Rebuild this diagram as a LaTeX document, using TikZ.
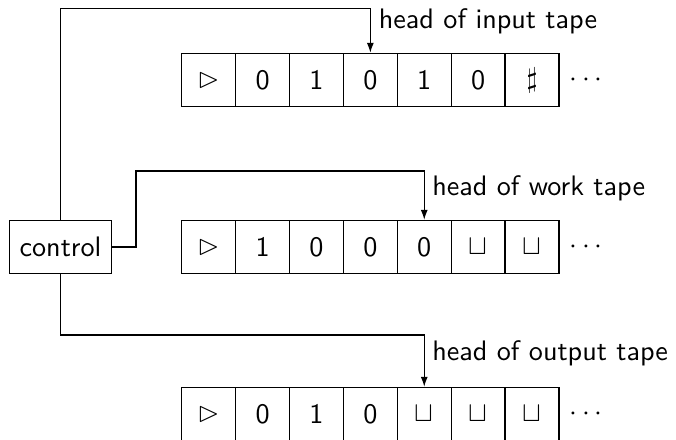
\documentclass[tikz,border=0pt]{standalone}
\usepackage{amssymb}
\usetikzlibrary{arrows.meta}
\begin{document}
\begin{tikzpicture}[x=0.355pt,y=-0.355pt,
  every node/.style={font=\sffamily},
  cell/.style={draw,minimum width=19.1pt,minimum height=19pt,inner sep=0pt},
  ctrlbox/.style={draw,minimum height=18.7pt,inner xsep=3.6pt,inner ysep=0pt},
  headlabel/.style={anchor=base west,inner sep=0pt},
  more/.style={anchor=base,inner sep=0pt},
  arr/.style={-{Latex[length=3.5pt,width=2.5pt]}}]
\useasboundingbox (0,0) rectangle (676,440);

% the three tapes
\foreach \sym [count=\i from 0] in {$\vartriangleright$,0,1,0,1,0,$\sharp$}
  \node[cell] (in\i) at (208.65+53.9*\i,80) {\sym};
\foreach \sym [count=\i from 0] in {$\vartriangleright$,1,0,0,0,$\sqcup$,$\sqcup$}
  \node[cell] (wk\i) at (208.65+53.9*\i,247) {\sym};
\foreach \sym [count=\i from 0] in {$\vartriangleright$,0,1,0,$\sqcup$,$\sqcup$,$\sqcup$}
  \node[cell] (out\i) at (208.65+53.9*\i,414) {\sym};

\node[more] (inMore)  at (586,87)  {$\cdots$};
\node[more] (wkMore)  at (586,254) {$\cdots$};
\node[more] (outMore) at (586,421) {$\cdots$};

% finite control
\node[ctrlbox] (ctrl) at (60.5,247) {control};

% heads
\coordinate (inRail)  at (60.5,8.3);
\coordinate (wkRail)  at (136,171);
\coordinate (outRail) at (60.5,335);

\draw[arr] (ctrl.north) -- (ctrl.north |- inRail) -| (in3.north);
\draw[arr] (ctrl.east) -| (wkRail) -| (wk4.north);
\draw[arr] (ctrl.south) -- (ctrl.south |- outRail) -| (out4.north);

\node[headlabel] (inLabel)  at (378.3,28.3)  {head of input tape};
\node[headlabel] (wkLabel)  at (431.7,195.7) {head of work tape};
\node[headlabel] (outLabel) at (431.7,360.7) {head of output tape};
\end{tikzpicture}
\end{document}
